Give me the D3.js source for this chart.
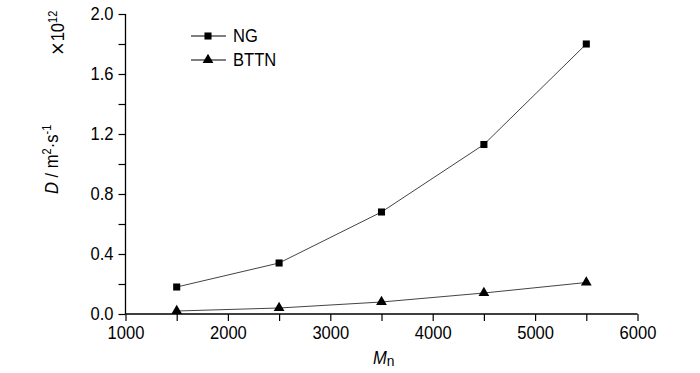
<!DOCTYPE html>
<html lang="en">
<head>
<meta charset="utf-8">
<script src="https://d3js.org/d3.v7.min.js"></script>
<style>
  body { margin: 0; background: #fff; }
  text { font-family: "Liberation Sans", Arial, sans-serif; fill: #000; }
</style>
</head>
<body>
<div id="chart"></div>
<script>
const width = 700
const height = 373

// data
const mn = [1500, 2500, 3500, 4500, 5500]
const ngValues = [0.18, 0.34, 0.68, 1.13, 1.80]
const bttnValues = [0.02, 0.04, 0.08, 0.14, 0.21]
const seriesNames = ['NG', 'BTTN']
const xTicks = [1000, 2000, 3000, 4000, 5000, 6000]
const yTicks = [0.0, 0.4, 0.8, 1.2, 1.6, 2.0]

const margins = { top: 14, right: 62.5, bottom: 59, left: 125.5 }
const squeeze = 'scale(0.92, 1)' // the original type is a bit condensed

const svg = d3.select('#chart').append('svg')
    .attr('width', width)
    .attr('height', height)

const xScale = d3.scaleLinear().domain([1000, 6000]).range([margins.left, width - margins.right])
const yScale = d3.scaleLinear().domain([0, 2.0]).range([height - margins.bottom, margins.top])

// axes: major ticks labelled, minor ticks in between
const xAxis = d3.axisBottom(xScale)
    .tickValues(d3.range(1000, 6001, 500))
    .tickSize(7).tickPadding(5)
    .tickFormat(d => xTicks.includes(d) ? d : '')
const yAxis = d3.axisLeft(yScale)
    .tickValues(d3.range(0, 2.001, 0.2))
    .tickSize(7).tickPadding(5)
    .tickFormat(d => yTicks.some(t => Math.abs(t - d) < 1e-6) ? d3.format('.1f')(d) : '')

const gx = svg.append('g')
    .attr('transform', `translate(0, ${yScale(0)})`)
    .call(xAxis)
const gy = svg.append('g')
    .attr('transform', `translate(${xScale(1000)}, 0)`)
    .call(yAxis)

for (const g of [gx, gy]) {
    g.select('.domain').attr('stroke', '#000').attr('stroke-width', 1.3)
    g.selectAll('.tick line').attr('stroke', '#000').attr('stroke-width', 1.2)
    g.selectAll('.tick text')
        .style('font-size', '18px')
        .attr('fill', '#000')
        .attr('transform', squeeze)
}
gx.select('.domain').attr('d', `M${xScale(1000)},0H${xScale(6000)}`)
gy.select('.domain').attr('d', `M0,${yScale(2.0)}V${yScale(0)}`)
gy.selectAll('.tick text').attr('x', -13)

// series
const line = d3.line()
    .x((d, i) => xScale(mn[i]))
    .y(d => yScale(d))

const square = d3.symbol().type(d3.symbolSquare).size(50)
const triangle = d3.symbol().type(d3.symbolTriangle).size(50)

const series = [
    { name: seriesNames[0], values: ngValues, symbol: square },
    { name: seriesNames[1], values: bttnValues, symbol: triangle }
]

series.forEach(s => {
    svg.append('path')
        .datum(s.values)
        .attr('d', line)
        .attr('fill', 'none')
        .attr('stroke', '#444')
        .attr('stroke-width', 1)
    svg.append('g').selectAll('path')
        .data(s.values)
        .join('path')
        .attr('d', s.symbol)
        .attr('transform', (d, i) => `translate(${xScale(mn[i])}, ${yScale(d)})`)
        .attr('fill', '#000')
})

// legend
const legend = svg.append('g').attr('transform', 'translate(191, 36)')
series.forEach((s, i) => {
    const row = legend.append('g').attr('transform', `translate(0, ${i * 24})`)
    row.append('line')
        .attr('x1', 0).attr('x2', 35)
        .attr('stroke', '#000').attr('stroke-width', 1.2)
    row.append('path')
        .attr('d', s.symbol)
        .attr('transform', 'translate(17, 0)')
        .attr('fill', '#000')
    row.append('text')
        .attr('transform', `translate(42, 6) ${squeeze}`)
        .style('font-size', '18px')
        .text(s.name)
})

// axis titles
const xTitle = svg.append('text')
    .attr('transform', `translate(373, 364) ${squeeze}`)
    .style('font-size', '18px')
xTitle.append('tspan').style('font-style', 'italic').text('M')
xTitle.append('tspan').attr('dy', 2).style('font-size', '15px').text('n')

const yTitle = svg.append('text')
    .attr('transform', `translate(58, 194) rotate(-90) ${squeeze}`)
    .style('font-size', '18px')
yTitle.append('tspan').style('font-style', 'italic').text('D')
yTitle.append('tspan').text(' / m')
yTitle.append('tspan').attr('dy', -7).style('font-size', '12px').text('2')
yTitle.append('tspan').attr('dy', 7).text('·s')
yTitle.append('tspan').attr('dy', -7).style('font-size', '12px').text('-1')

const mult = svg.append('text')
    .attr('transform', `translate(64, 56) rotate(-90) ${squeeze}`)
    .style('font-size', '18px')
mult.append('tspan').style('font-family', '"DejaVu Sans", sans-serif').style('font-size', '19px').text('×')
mult.append('tspan').text('10')
mult.append('tspan').attr('dy', -7).style('font-size', '12px').text('12')
</script>
</body>
</html>
